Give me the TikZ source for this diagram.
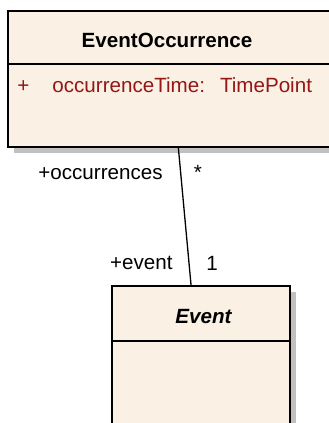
\documentclass[tikz,border=0pt]{standalone}
\usepackage{fontspec}
\setmainfont{Liberation Sans}
\usepackage{xcolor}
\usetikzlibrary{positioning,shadows}
\definecolor{classfill}{HTML}{FAF0E3}
\definecolor{attrred}{HTML}{961616}
\definecolor{shadowgray}{HTML}{C0C0C0}

\begin{document}
\begin{tikzpicture}[x=0.5pt,y=-0.5pt,
  classbox/.style={draw,line width=1pt,fill=classfill,inner sep=0pt,outer sep=0pt,
    general shadow={fill=shadowgray,shadow xshift=3pt,shadow yshift=-3pt}},
  umltext/.style={inner sep=0pt,font=\fontsize{10.3}{12}\selectfont}]
\useasboundingbox (0,0) rectangle (328,423);
% class EventOccurrence
\node[classbox,anchor=north west,minimum width=163.6pt,minimum height=26.5pt] (occhead) at (7.8,10.5) {};
\node[classbox,below=0pt of occhead,minimum width=163.6pt,minimum height=41.85pt] (occbody) {};
\node[umltext,anchor=base,font=\fontsize{10.3}{12}\selectfont\bfseries] (occname) at (167,47) {EventOccurrence};
\node[umltext,anchor=base west,text=attrred] (occvis) at (17,92) {+};
\node[umltext,anchor=base west,text=attrred] (occattr) at (52,92) {occurrenceTime:\hspace{7.5pt}TimePoint};
% class Event
\node[classbox,anchor=north west,minimum width=88.95pt,minimum height=27.25pt] (evhead) at (111.8,286.2) {};
\node[classbox,below=0pt of evhead,minimum width=88.95pt,minimum height=55pt] (evbody) {};
\node[umltext,anchor=base,font=\fontsize{10.3}{12}\selectfont\bfseries\itshape] (evname) at (203.5,323) {Event};
% association
\draw[line width=0.65pt] ([xshift=3.45pt]occbody.south) -- ([xshift=-4.8pt]evhead.north);
\node[umltext,anchor=base east] (occrole) at (163,179) {+occurrences};
\node[umltext,anchor=base] (occmult) at (198,179) {*};
\node[umltext,anchor=base east] (evrole) at (173,269) {+event};
\node[umltext,anchor=base] (evmult) at (212,270) {1};
\end{tikzpicture}
\end{document}
